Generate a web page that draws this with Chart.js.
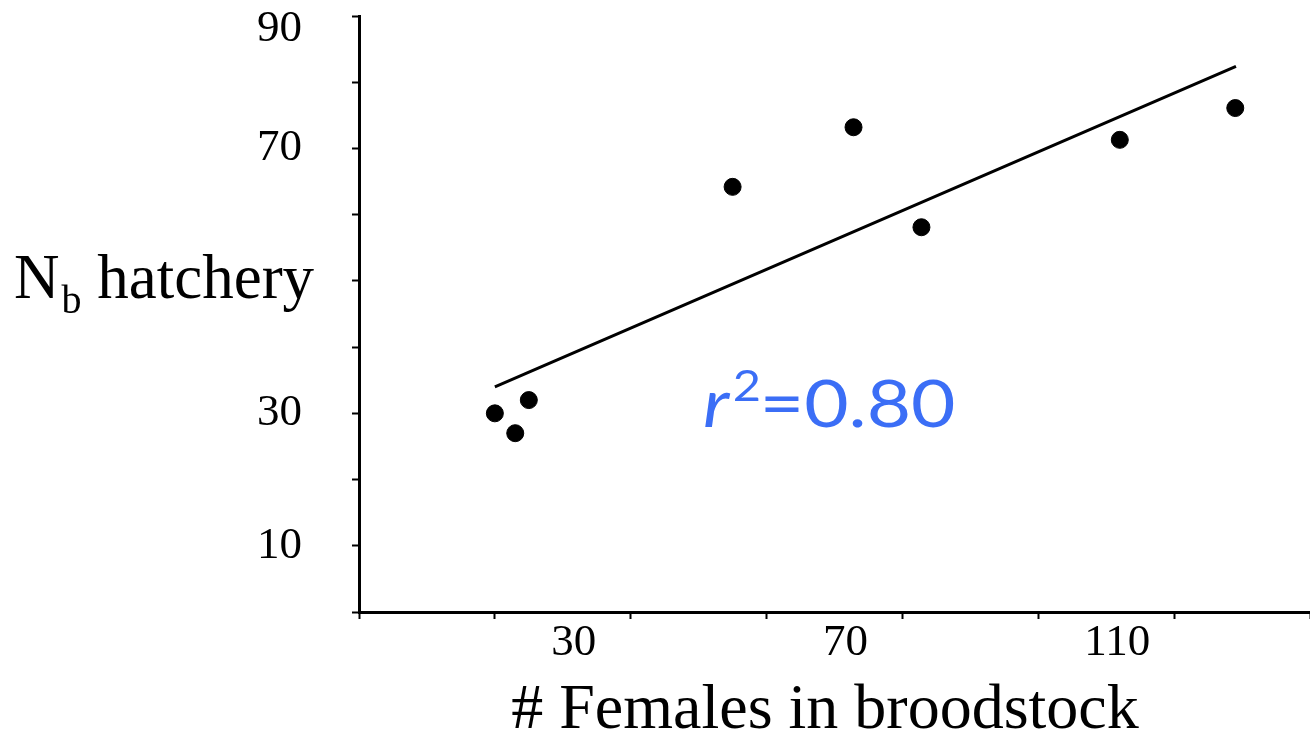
<!DOCTYPE html>
<html>
<head>
<meta charset="utf-8">
<script src="https://cdn.jsdelivr.net/npm/chart.js@4.4.1/dist/chart.umd.min.js"></script>
<style>
  body { margin: 0; background: #fff; }
  canvas { display: block; }
</style>
</head>
<body>
<canvas id="myChart" width="1310" height="733"></canvas>
<script>
// values
const femalesBroodstock = [20, 23, 25, 55, 72.8, 82.8, 112, 129];
const nbHatchery = [30, 27, 32, 64.2, 73.2, 58.1, 71.3, 76.1];
const trendX = [20, 129.1];
const trendY = [34, 82.4];
const xTickLabels = [30, 70, 110];
const yTickLabels = [10, 30, 70, 90];
const r2Text = '=0.80';

const serif = '"Liberation Serif", "Times New Roman", serif';
const sans = 'Lato, "Open Sans", sans-serif';
const Y_MAX = 90;

// kill the label overflow padding so the plot area sits where the original did
function noPad(scale) {
    scale.paddingTop = 0;
    scale.paddingBottom = 0;
    scale.paddingLeft = 0;
    scale.paddingRight = 0;
}

// axis titles, top y label and r^2 note (sub/superscripts need manual drawing)
const textPlugin = {
    id: 'texts',
    afterDraw(chart) {
        const ctx = chart.ctx;
        const yScale = chart.scales.y;
        ctx.save();
        ctx.fillStyle = '#000';

        // top y label sits a little below its tick, like the original
        if (yTickLabels.includes(Y_MAX)) {
            ctx.font = '45px ' + serif;
            ctx.textAlign = 'right';
            ctx.textBaseline = 'middle';
            ctx.fillText(String(Y_MAX), 302, yScale.getPixelForValue(Y_MAX) + 13);
        }

        ctx.textBaseline = 'alphabetic';
        ctx.textAlign = 'left';

        // y title: N_b hatchery
        ctx.font = '63px ' + serif;
        ctx.fillText('N', 14, 298);
        let w = ctx.measureText('N').width;
        ctx.font = '40px ' + serif;
        ctx.fillText('b', 14 + w + 2, 313);
        let wb = ctx.measureText('b').width;
        ctx.font = '63px ' + serif;
        ctx.fillText(' hatchery', 14 + w + wb + 2, 298);

        // x title
        ctx.textAlign = 'center';
        ctx.font = '64px ' + serif;
        ctx.fillText('# Females in broodstock', 825, 728);

        // r^2 note, slightly stretched horizontally like the original
        ctx.textAlign = 'left';
        ctx.fillStyle = 'rgb(59,110,246)';
        ctx.translate(703, 0);
        ctx.scale(1.16, 1);
        ctx.font = 'italic 66px ' + sans;
        ctx.fillText('r', 0, 427);
        let x = ctx.measureText('r').width + 3;
        ctx.font = '42px ' + sans;
        ctx.fillText('2', x, 401);
        x += ctx.measureText('2').width;
        ctx.font = '66px ' + sans;
        ctx.fillText(r2Text, x - 1, 427);
        ctx.restore();
    }
};

const data = {
    datasets: [{
        label: 'Nb',
        data: femalesBroodstock.map((x, i) => ({x: x, y: nbHatchery[i]})),
        backgroundColor: '#000',
        borderColor: '#000',
        pointRadius: 8.5,
        pointHoverRadius: 8.5
    }, {
        label: 'trend',
        data: trendX.map((x, i) => ({x: x, y: trendY[i]})),
        showLine: true,
        borderColor: '#000',
        borderWidth: 3,
        pointRadius: 0
    }]
};

const config = {
    type: 'scatter',
    data: data,
    options: {
        responsive: false,
        animation: false,
        layout: {
            autoPadding: false,
            padding: {top: 16, right: 0, left: 0, bottom: 0}
        },
        scales: {
            x: {
                min: 0,
                max: 140,
                afterBuildTicks: (scale) => {
                    const t = [];
                    for (let v = 0; v <= 140; v += 10) t.push({value: v});
                    scale.ticks = t;
                },
                afterFit: (scale) => { scale.height = 121; noPad(scale); },
                border: {color: '#000', width: 3},
                grid: {
                    drawOnChartArea: false,
                    drawTicks: true,
                    tickLength: 7,
                    tickWidth: 2,
                    tickColor: (c) => (c.tick && c.tick.value % 20 === 0) ? '#000' : 'rgba(0,0,0,0)'
                },
                ticks: {
                    autoSkip: false,
                    maxRotation: 0,
                    padding: -3,
                    labelOffset: 11,
                    color: '#000',
                    font: {family: serif, size: 45},
                    callback: (v) => xTickLabels.includes(v) ? String(v) : ''
                }
            },
            y: {
                min: 0,
                max: Y_MAX,
                afterFit: (scale) => { scale.width = 359; noPad(scale); },
                border: {color: '#000', width: 3},
                grid: {
                    drawOnChartArea: false,
                    drawTicks: true,
                    tickLength: 7,
                    tickWidth: 2,
                    tickColor: '#000'
                },
                ticks: {
                    stepSize: 10,
                    autoSkip: false,
                    padding: 50,
                    color: '#000',
                    font: {family: serif, size: 45},
                    callback: (v) => (yTickLabels.includes(v) && v !== Y_MAX) ? String(v) : ''
                }
            }
        },
        plugins: {
            legend: {display: false},
            tooltip: {enabled: false}
        }
    },
    plugins: [textPlugin]
};

const context = document.getElementById('myChart').getContext('2d');
const myChart = new Chart(context, config);
</script>
</body>
</html>
